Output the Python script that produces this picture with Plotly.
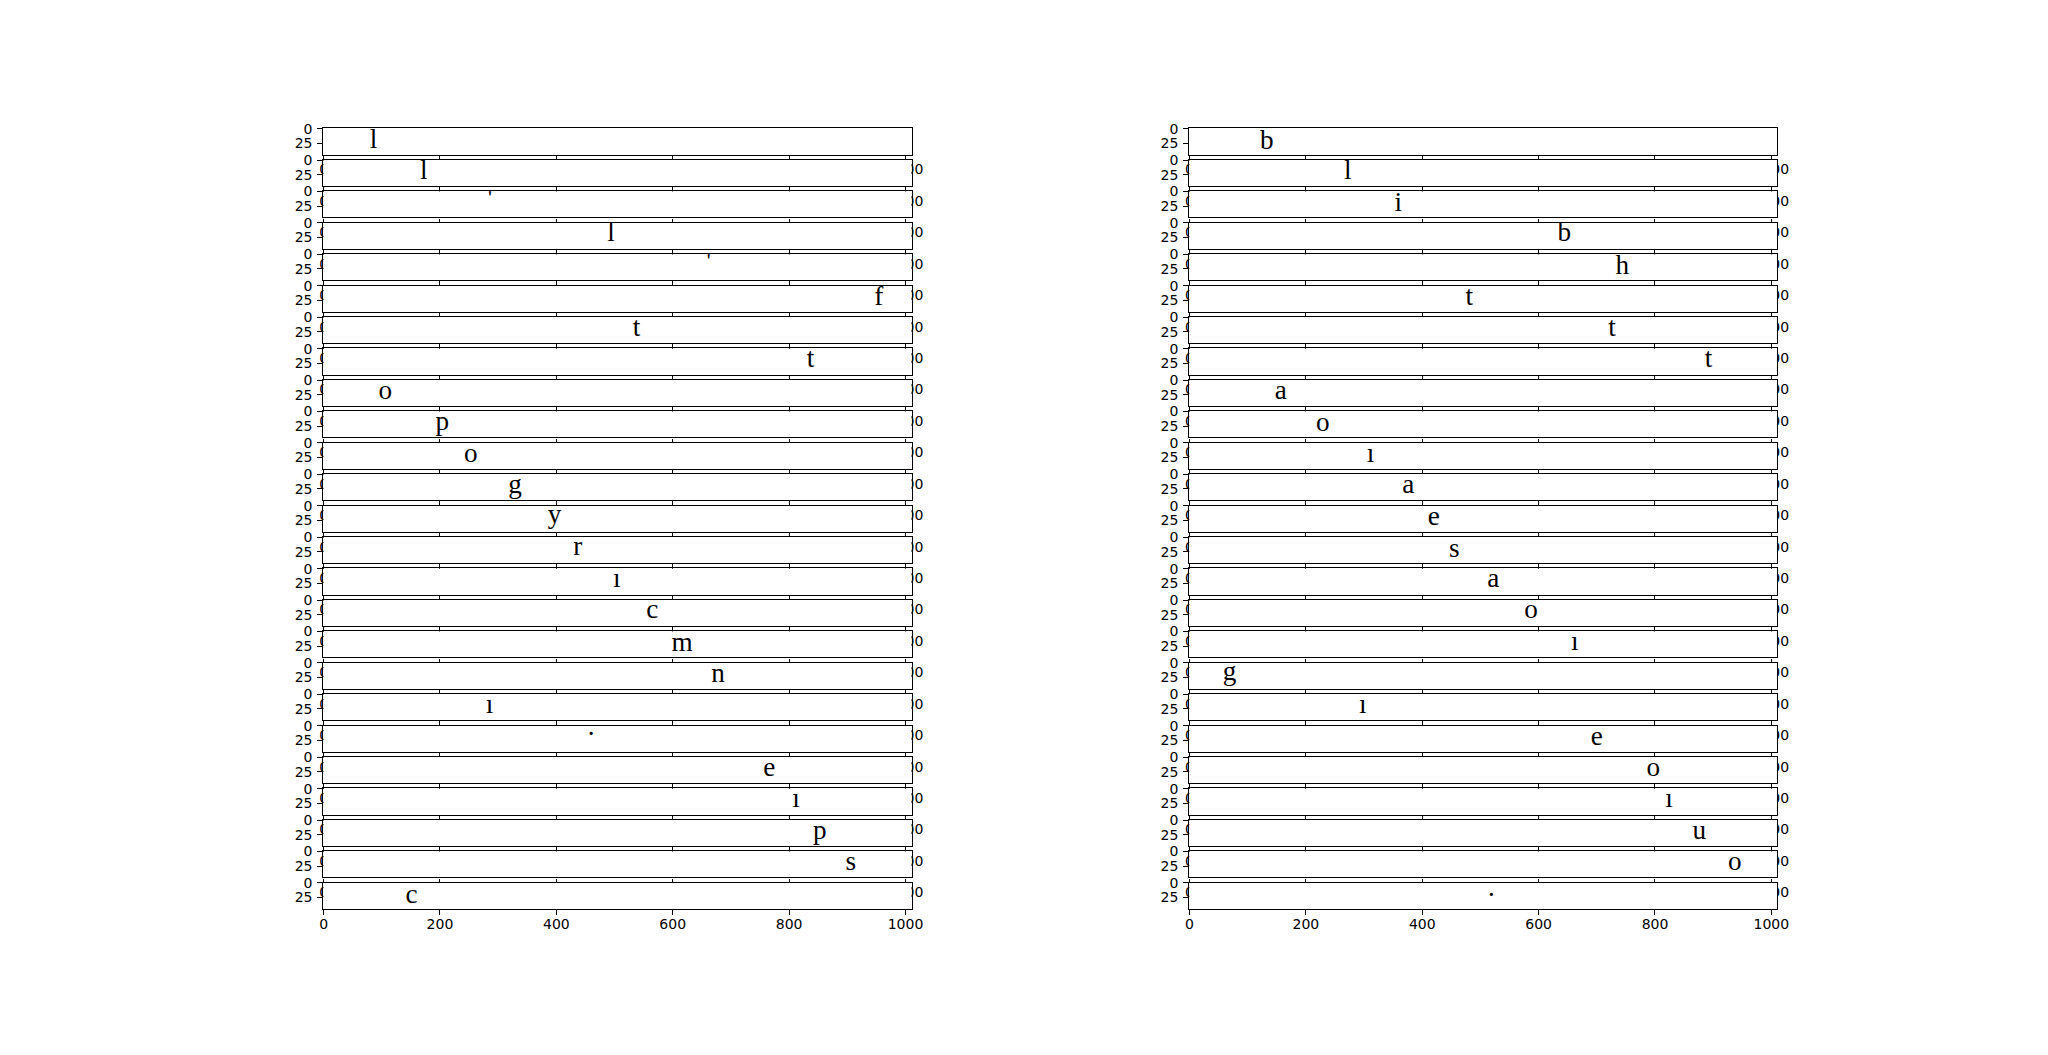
import plotly.graph_objects as go

# ---- data (letter, column position, baseline row in image pixels) ----
left_chars = ["l", "l", "'", "l", "'", "f", "t", "t", "o", "p", "o", "g", "y",
              "r", "ı", "c", "m", "n", "ı", ".", "e", "ı", "p", "s", "c"]
left_x = [86, 172, 286, 494, 662, 954, 538, 837, 106, 204, 253, 329, 397,
          437, 504, 565, 616, 678, 285, 460, 766, 812, 853, 906, 151]
left_base = [33, 32, 26, 31, 26, 32, 31.5, 31.5, 32.5, 31, 32.5, 32.5, 29,
             31, 32, 31, 33, 32.5, 31.5, 15, 32, 31, 33, 32, 34]

right_chars = ["b", "l", "i", "b", "h", "t", "t", "t", "a", "o", "ı", "a", "e",
               "s", "a", "o", "ı", "g", "ı", "e", "o", "ı", "u", "o", "."]
right_x = [133, 272, 359, 644, 744, 481, 726, 892, 157, 229, 311, 376, 420,
           455, 522, 587, 662, 69, 298, 700, 797, 824, 876, 937, 519]
right_base = [34, 32, 32.5, 31, 33.5, 32, 32, 32, 32.5, 32.5, 32, 32.5, 32,
              33, 32, 31, 32, 29.6, 31.5, 32, 32, 32, 32.5, 31.5, 23]

x_ticks = [0, 200, 400, 600, 800, 1000]
y_ticks = [0, 25]

IMG_W = 1011
IMG_H = 45

# ---- layout constants (target pixel geometry, corrected for the small
#      scale/offset observed in the rendered page) ----
FIG_W, FIG_H = 2048, 1055
SCALE = 0.9922
OFF_X, OFF_Y = 3.3, 6.9


def cx(px):
    return (px - OFF_X) / SCALE


def cy(px):
    return (px - OFF_Y) / SCALE


COL_LEFT_PX = [cx(322.6), cx(1188.5)]
AX_W_PX = 588.3 / SCALE
ROW_TOP_PX = cy(127.3)
ROW_PITCH_PX = 31.42 / SCALE
AX_H_PX = 26.2 / SCALE
FS = 27 / SCALE
PX_PER_UNIT = AX_W_PX / IMG_W
N_ROWS = 25

tick_font = dict(family="DejaVu Sans", size=13.9 / SCALE, color="black")

fig = go.Figure()
shapes = []
layout_axes = {}
columns = [(left_chars, left_x, left_base), (right_chars, right_x, right_base)]

idx = 0
for r in range(N_ROWS):
    for c, (chars, xs, bases) in enumerate(columns):
        idx += 1
        sfx = "" if idx == 1 else str(idx)
        x0 = COL_LEFT_PX[c] / FIG_W
        x1 = (COL_LEFT_PX[c] + AX_W_PX) / FIG_W
        top = ROW_TOP_PX + r * ROW_PITCH_PX
        y1 = 1 - top / FIG_H
        y0 = 1 - (top + AX_H_PX) / FIG_H

        y_pt = bases[r] - 0.25 * FS / PX_PER_UNIT
        fig.add_trace(go.Scatter(
            x=[xs[r]], y=[y_pt], text=[chars[r]], mode="text",
            textposition="middle center",
            textfont=dict(family="Liberation Serif", size=FS, color="black"),
            cliponaxis=True, hoverinfo="skip", showlegend=False,
            xaxis="x" + sfx, yaxis="y" + sfx,
        ))

        # opaque white image area (covers the tick labels of the row above)
        shapes.append(dict(
            type="rect", xref="x" + sfx, yref="y" + sfx, layer="below",
            x0=-0.5, x1=IMG_W - 0.5, y0=-0.5, y1=IMG_H - 0.5,
            fillcolor="white", line=dict(width=0),
        ))

        common = dict(
            ticks="outside", ticklen=4.9, tickwidth=1.1, tickcolor="black",
            showline=True, mirror=True, linecolor="black", linewidth=1.1,
            showgrid=False, zeroline=False, tickfont=tick_font,
            fixedrange=True, tickmode="array",
        )
        layout_axes["xaxis" + sfx] = dict(
            domain=[x0, x1], range=[-0.5, IMG_W - 0.5], anchor="y" + sfx,
            tickvals=x_ticks, ticktext=[str(v) for v in x_ticks],
            ticklabelstandoff=-3, **common)
        layout_axes["yaxis" + sfx] = dict(
            domain=[y0, y1], range=[IMG_H - 0.5, -0.5], anchor="x" + sfx,
            tickvals=y_ticks, ticktext=[str(v) for v in y_ticks],
            ticklabelstandoff=2, **common)

fig.update_layout(
    width=FIG_W, height=FIG_H, autosize=False,
    margin=dict(l=0, r=0, t=0, b=0),
    paper_bgcolor="white", plot_bgcolor="white",
    showlegend=False, shapes=shapes,
    **layout_axes,
)

fig.write_html("out.html")
